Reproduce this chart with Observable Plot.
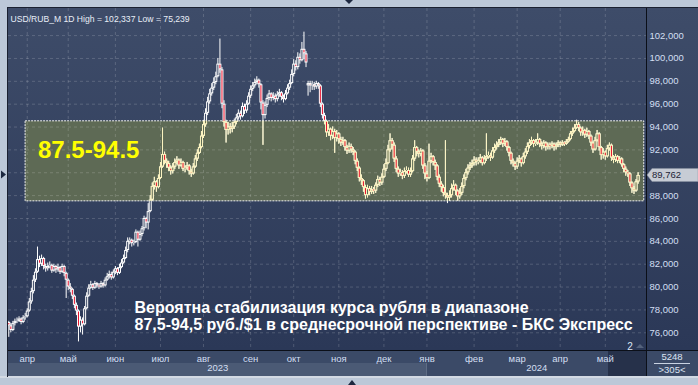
<!DOCTYPE html>
<html><head><meta charset="utf-8">
<script src="https://cdn.jsdelivr.net/npm/d3@7"></script>
<script src="https://cdn.jsdelivr.net/npm/@observablehq/plot@0.6"></script>
<style>
html,body{margin:0;padding:0;background:#bcc8d8;overflow:hidden;}
#chart svg{display:block;}
</style></head><body><div id="chart"></div>
<script>
// ---- data (daily bars, USD/RUB_M, from 2023-03-21, weekdays) ----
const startDate = "2023-03-21";
const opens = [
76.9,76.6,76.2,76.8,
77.0,77.0,77.2,76.9,77.3, 77.4,77.9,78.7,79.6,80.6, 81.3,82.4,82.0,82.5,81.8, 81.6,81.8,81.9,81.4,81.8,
81.5,81.7,81.3,81.8,81.2, 80.6,80.0,79.8,79.2,78.4, 77.9,76.5,77.1,76.7,78.1, 79.2,79.9,80.2,79.9,80.3,
80.1,80.0,80.3,80.1,80.6, 80.9,81.1,80.8,81.3,81.6, 81.2,81.7,82.1,82.5,83.2, 84.0,84.1,83.8,83.9,84.8,
84.1,84.6,85.1,86.0,85.6, 86.6,87.6,88.8,89.2,88.7, 89.5,90.5,91.6,91.0,90.8, 90.4,90.1,90.5,90.9,91.1,
90.6,90.9,90.3,90.4,90.6, 90.1,89.9,90.5,91.2,91.7, 92.2,93.2,94.2,95.2,96.2, 96.9,97.4,97.9,98.4,99.5,
99.0,96.0,94.4,93.7,94.0, 93.8,94.0,94.4,94.8,95.2, 94.9,95.8,95.4,96.0,96.7, 97.3,97.6,97.9,98.1,97.7,
96.1,95.0,95.9,96.5,96.9, 96.5,96.7,96.4,96.8,97.0, 96.6,96.4,96.9,97.4,97.8, 98.6,99.5,99.2,100.1,99.8,
100.8,100.4,97.6,97.8,97.6, 97.7,97.5,97.8,97.6,96.0, 95.0,94.5,93.5,93.8,93.2, 93.6,93.0,93.4,92.9,92.6,
92.8,92.2,91.9,92.3,92.0, 91.8,91.0,90.4,89.5,89.3, 88.7,88.0,88.6,88.3,88.5, 88.4,88.9,89.4,89.1,89.6,
90.3,90.8,92.0,92.8,92.4, 91.2,90.3,89.9,90.0,89.7, 90.1,90.2,89.8,90.1,91.2, 92.2,91.8,91.6,91.9,90.6,
89.9,89.5,91.0,91.4,90.9, 90.6,89.6,89.0,88.7,88.2, 88.0,87.8,88.0,88.6,88.9, 88.4,87.9,88.2,88.8,89.5,
90.0,90.4,90.6,90.8,91.1, 90.9,91.0,91.3,90.8,91.2, 91.4,91.5,91.3,91.9,92.2, 92.4,92.6,92.9,92.5,92.7,
92.2,91.7,91.0,90.8,90.5, 91.0,91.2,90.8,91.4,91.8, 92.3,92.6,92.8,92.5,92.6, 92.9,92.5,92.3,92.6,92.2,
92.4,92.3,92.5,92.2,92.4, 92.6,92.4,92.6,92.5,92.7, 92.9,93.4,93.6,93.9,94.2, 93.9,93.5,93.7,93.3,93.6,
93.2,92.6,92.0,92.8,93.4, 92.2,91.5,91.8,91.4,92.1, 92.4,91.3,91.1,91.4,91.0, 91.2,90.7,90.3,90.0,89.9,
89.1,88.6,88.4,89.2
];
const highs = [
77.0,76.8,77.0,77.2,
77.3,77.4,77.3,77.5,77.7, 78.1,79.0,79.9,81.0,81.6, 83.5,82.7,82.8,82.6,82.0, 82.1,82.2,82.0,82.0,81.9,
82.0,81.8,82.0,81.9,81.3, 80.7,80.3,79.9,79.3,78.6, 78.0,77.4,77.3,78.3,79.5, 80.2,80.5,80.3,80.5,80.4,
80.3,80.5,80.4,80.8,81.2, 81.4,81.3,81.5,81.8,81.7, 82.0,82.4,82.8,83.5,84.3, 84.3,84.2,84.1,85.0,84.9,
84.9,85.3,86.2,86.1,87.3, 88.0,89.1,89.6,89.3,89.8, 90.9,93.9,91.8,91.2,91.0, 90.6,90.8,91.2,91.4,91.2,
91.2,91.0,90.6,90.9,90.7, 90.3,90.8,91.5,92.0,92.5, 93.6,94.6,95.6,96.6,97.3, 97.8,98.3,98.8,100.0,101.7,
99.2,96.3,94.6,94.4,94.3, 94.4,94.7,95.1,95.5,95.4, 96.1,96.0,96.3,97.0,97.6, 97.9,98.2,98.4,98.2,97.8,
96.3,96.2,96.8,97.2,97.0, 97.0,96.9,97.1,97.3,97.1, 96.8,97.2,97.7,98.1,99.0, 99.9,99.8,100.5,100.4,101.4,
102.3,100.6,98.0,98.0,98.0, 97.9,98.0,97.9,97.7,96.1, 95.2,94.6,94.2,93.9,94.0, 93.8,93.7,93.5,93.1,93.1,
92.9,92.4,92.6,92.5,92.2, 91.9,91.2,90.5,89.8,89.4, 88.9,88.9,88.8,88.8,88.7, 89.1,89.7,89.6,89.9,90.7,
91.2,92.4,93.4,93.0,92.6, 91.4,90.5,90.3,90.2,90.4, 90.5,90.4,90.4,91.5,92.8, 92.3,92.0,92.1,92.0,90.8,
90.1,92.5,91.7,91.5,91.1, 90.7,89.8,89.2,88.9,92.8, 88.2,88.4,89.0,89.3,89.0, 88.5,88.6,89.1,89.8,90.3,
90.7,90.9,91.1,91.4,91.3, 91.3,91.6,91.4,91.5,93.4, 91.8,91.7,92.2,92.5,92.7, 92.9,93.1,93.0,93.0,92.8,
92.3,91.8,91.2,90.9,91.3, 91.5,91.3,91.7,92.1,92.6, 92.9,93.1,92.9,92.9,93.4, 93.0,92.7,92.8,92.7,92.6,
92.6,92.7,92.6,92.6,92.8, 92.7,92.8,92.7,92.9,93.1, 93.6,93.9,94.2,94.6,94.4, 94.0,94.0,93.8,93.9,93.7,
93.3,92.7,93.1,93.7,93.5, 92.3,92.1,91.9,92.4,92.6, 92.5,91.5,91.6,91.5,91.4, 91.3,90.8,90.5,90.2,90.0,
89.2,88.8,89.4,90.0
];
const lows = [
75.6,76.0,76.1,76.6,
76.8,76.9,76.7,76.8,77.1, 77.3,77.8,78.5,79.4,80.4, 81.2,81.7,81.8,81.5,81.3, 81.4,81.6,81.2,81.3,81.2,
81.3,81.1,81.2,80.9,79.0, 79.7,79.5,78.9,78.1,77.5, 75.2,76.0,75.8,76.6,78.0, 79.1,79.8,79.7,79.8,79.9,
79.8,79.9,79.9,80.0,80.5, 80.7,80.6,80.7,81.1,81.0, 81.1,81.6,82.0,82.4,83.0, 83.7,83.5,83.6,83.8,83.5,
84.0,84.4,84.9,85.1,85.0, 86.5,87.5,88.5,88.3,88.6, 89.4,90.4,90.7,90.4,90.1, 89.8,89.9,90.3,90.7,90.3,
90.5,90.1,90.0,90.2,89.8, 89.6,89.8,90.4,91.0,91.6, 92.1,93.0,94.0,95.0,96.0, 96.7,97.2,97.7,98.3,98.7,
95.6,94.0,92.6,93.3,93.4, 93.5,93.8,94.2,94.6,94.6, 94.8,95.1,95.2,95.9,96.5, 97.1,97.4,97.7,97.4,95.5,
92.4,94.7,95.7,96.3,96.2, 96.3,96.1,96.2,96.6,96.3, 96.1,96.3,96.8,97.2,97.7, 98.4,98.9,99.0,99.5,99.7,
99.9,99.2,96.7,97.0,97.2, 97.2,97.3,97.3,95.7,94.7, 94.2,93.1,93.2,92.8,92.9, 91.7,92.7,92.5,92.3,92.4,
91.9,91.6,91.7,91.7,91.5, 90.7,90.1,89.2,88.9,88.3, 87.7,87.8,88.0,88.1,88.1, 88.2,88.7,88.8,88.9,89.5,
90.1,90.7,91.8,92.0,90.9, 90.0,89.6,89.7,89.4,89.5, 89.9,89.6,89.6,90.0,91.0, 91.4,91.3,91.4,90.3,89.4,
89.2,89.4,90.8,90.6,90.2, 89.3,88.7,88.3,87.9,87.7, 87.3,87.5,87.8,88.4,88.0, 87.5,87.7,88.0,88.6,89.3,
89.8,90.2,90.4,90.6,90.6, 90.7,90.8,90.6,90.7,91.0, 91.2,91.0,91.2,91.7,92.0, 92.2,92.4,92.2,92.3,91.9,
91.4,90.7,90.5,90.2,90.3, 90.8,90.5,90.7,91.2,91.6, 92.1,92.4,92.2,92.3,92.4, 92.2,92.0,92.1,91.9,92.0,
92.0,92.1,91.9,92.0,92.2, 92.2,92.3,92.3,92.4,92.6, 92.8,93.2,93.5,93.8,93.6, 93.2,93.2,93.0,93.1,92.9,
92.3,91.7,91.9,92.7,91.9, 91.1,91.2,91.1,91.3,91.9, 91.0,90.8,90.9,90.8,90.8, 90.5,90.0,89.7,89.6,88.8,
88.2,88.1,88.3,89.0
];
const closes = [
76.6,76.2,76.8,77.0,
77.0,77.2,76.9,77.3,77.4, 77.9,78.7,79.6,80.6,81.3, 82.4,82.0,82.5,81.8,81.6, 81.8,81.9,81.4,81.8,81.5,
81.7,81.3,81.8,81.2,80.6, 80.0,79.8,79.2,78.4,77.9, 76.5,77.1,76.7,78.1,79.2, 79.9,80.2,79.9,80.3,80.1,
80.0,80.3,80.1,80.6,80.9, 81.1,80.8,81.3,81.6,81.2, 81.7,82.1,82.5,83.2,84.0, 84.1,83.8,83.9,84.8,84.1,
84.6,85.1,86.0,85.6,86.6, 87.6,88.8,89.2,88.7,89.5, 90.5,91.6,91.0,90.8,90.4, 90.1,90.5,90.9,91.1,90.6,
90.9,90.3,90.4,90.6,90.1, 89.9,90.5,91.2,91.7,92.2, 93.2,94.2,95.2,96.2,96.9, 97.4,97.9,98.4,99.5,99.0,
96.0,94.4,93.7,94.0,93.8, 94.0,94.4,94.8,95.2,94.9, 95.8,95.4,96.0,96.7,97.3, 97.6,97.9,98.1,97.7,96.1,
95.0,95.9,96.5,96.9,96.5, 96.7,96.4,96.8,97.0,96.6, 96.4,96.9,97.4,97.8,98.6, 99.5,99.2,100.1,99.8,100.8,
100.4,99.6,97.8,97.6,97.7, 97.5,97.8,97.6,96.0,95.0, 94.5,93.5,93.8,93.2,93.6, 93.0,93.4,92.9,92.6,92.8,
92.2,91.9,92.3,92.0,91.8, 91.0,90.4,89.5,89.3,88.7, 88.0,88.6,88.3,88.5,88.4, 88.9,89.4,89.1,89.6,90.3,
90.8,92.0,92.8,92.4,91.2, 90.3,89.9,90.0,89.7,90.1, 90.2,89.8,90.1,91.2,92.2, 91.8,91.6,91.9,90.6,89.9,
89.5,91.0,91.4,90.9,90.6, 89.6,89.0,88.7,88.2,88.0, 87.8,88.0,88.6,88.9,88.4, 87.9,88.2,88.8,89.5,90.0,
90.4,90.6,90.8,91.1,90.9, 91.0,91.3,90.8,91.2,91.4, 91.5,91.3,91.9,92.2,92.4, 92.6,92.9,92.5,92.7,92.2,
91.7,91.0,90.8,90.5,91.0, 91.2,90.8,91.4,91.8,92.3, 92.6,92.8,92.5,92.6,92.9, 92.5,92.3,92.6,92.2,92.4,
92.3,92.5,92.2,92.4,92.6, 92.4,92.6,92.5,92.7,92.9, 93.4,93.6,93.9,94.2,93.9, 93.5,93.7,93.3,93.6,93.2,
92.6,92.0,92.8,93.4,92.2, 91.5,91.8,91.4,92.1,92.4, 91.3,91.1,91.4,91.0,91.2, 90.7,90.3,90.0,89.9,89.1,
88.6,88.4,89.2,89.762
];
const monthNames = ["янв","фев","мар","апр","май","июн","июл","авг","сен","окт","ноя","дек"];
const yTicks = [76,78,80,82,84,86,88,90,92,94,96,98,100,102];
const zoneLow = 87.5, zoneHigh = 94.5;
const zoneStartBar = 8.2, zoneEndBar = 310;
const zoneLabel = "87.5-94.5";
const headerText = "USD/RUB_M 1D High = 102,337 Low = 75,239";
const captionLine1 = "Вероятна стабилизация курса рубля в диапазоне";
const captionLine2 = "87,5-94,5 руб./$1 в среднесрочной перспективе - БКС Экспресс";
const lastPrice = 89.762;
const cornerTop = "5248", cornerBottom = ">305<";
const paneNumber = "2";

(function () {
// ---- build rows ----
const dates = [];
for (let d = new Date(startDate + "T00:00:00Z"); dates.length < closes.length; d = d3.utcDay.offset(d, 1)) {
  const w = d.getUTCDay();
  if (w !== 0 && w !== 6) dates.push(d);
}
const bars = closes.map((c, i) => ({i, date: dates[i], o: opens[i], h: highs[i], l: lows[i], c}));
const monthStarts = bars.filter((d, i) => i > 0 && d.date.getUTCMonth() !== dates[i - 1].getUTCMonth()).map(d => d.i);
const yearStarts = bars.filter((d, i) => i > 0 && d.date.getUTCFullYear() !== dates[i - 1].getUTCFullYear()).map(d => d.i);
const W = 698, H = 385, mL = 8, mR = 52, mT = 8, mB = 35;
const xDomain = [-0.14, 311.1];
const years = [];
{
  const bounds = [xDomain[0], ...yearStarts, xDomain[1]];
  for (let k = 0; k < bounds.length - 1; k++) {
    const idx = Math.max(0, Math.ceil(bounds[k]));
    years.push({from: bounds[k], to: bounds[k + 1], mid: (bounds[k] + bounds[k + 1]) / 2, label: String(dates[idx].getUTCFullYear())});
  }
}
// the last-price tag covers the tick label next to it
const yLabelTicks = yTicks.filter(v => Math.abs(v - lastPrice) > 1);
const down = bars.filter(d => d.c < d.o);
const up = bars.filter(d => d.c > d.o);

function candles(color, hollow, desc) {
  return [
    Plot.ruleX(bars, {x: "i", y1: "l", y2: "h", stroke: color, strokeWidth: 1, ariaDescription: desc}),
    Plot.ruleX(bars, {x: "i", y1: "o", y2: "c", stroke: color, strokeWidth: 3, ariaDescription: desc}),
    Plot.ruleX(up, {x: "i", y1: "c", y2: "o", stroke: hollow, strokeWidth: 1, insetTop: 1, insetBottom: 1, ariaDescription: desc}),
    Plot.ruleX(down, {x: "i", y1: "o", y2: "c", stroke: "#e8102c", strokeWidth: 1, insetTop: 1, insetBottom: 1, ariaDescription: desc})
  ];
}

const chart = Plot.plot({
  width: W, height: H,
  marginLeft: mL, marginRight: mR, marginTop: mT, marginBottom: mB,
  style: {background: "transparent", fontFamily: "'Liberation Sans', Arial, sans-serif", fontSize: "9.5px", color: "#d3dff2"},
  x: {domain: xDomain, axis: "bottom", ticks: monthStarts, tickFormat: i => monthNames[dates[i].getUTCMonth()], tickSize: 0, tickPadding: 5, label: null},
  y: {domain: [74.45, 104.37], axis: "right", ticks: yLabelTicks, tickFormat: d => d.toFixed(3).replace(".", ","), tickSize: 0, tickPadding: 3, label: null},
  marks: [
    Plot.rect([{x1: zoneStartBar, x2: zoneEndBar, y1: zoneLow, y2: zoneHigh}], {x1: "x1", x2: "x2", y1: "y1", y2: "y2", fill: "#5e6a55"}),
    Plot.ruleY(yTicks, {stroke: "#ffffff", strokeOpacity: 0.17, strokeDasharray: "3,3"}),
    Plot.ruleX(monthStarts, {x: d => d, stroke: "#ffffff", strokeOpacity: 0.17, strokeDasharray: "3,3"}),
    Plot.rect([{x1: zoneStartBar, x2: zoneEndBar, y1: zoneLow, y2: zoneHigh}], {x1: "x1", x2: "x2", y1: "y1", y2: "y2", fill: "none", stroke: "#f0f0f0", strokeDasharray: "2,1"}),
    ...candles("#ffffff", "#35435f", "plain-candles"),
    ...candles("#fbf3bf", "#5e6a55", "zone-candles"),
    Plot.text([zoneLabel], {frameAnchor: "top-left", dx: 29.5, dy: 132, textAnchor: "start", fontSize: 24, fontWeight: "bold", fill: "#ffff00"}),
    Plot.text([captionLine1], {frameAnchor: "top-left", dx: 126, dy: 293, textAnchor: "start", fontSize: 16, fontWeight: "bold", fill: "#ffffff"}),
    Plot.text([captionLine2], {frameAnchor: "top-left", dx: 126, dy: 310, textAnchor: "start", fontSize: 16, fontWeight: "bold", fill: "#ffffff"}),
    Plot.text([headerText], {frameAnchor: "top-left", dx: 2, dy: 7, textAnchor: "start", fontSize: 8.6, fill: "#e8eef7"}),
    Plot.text(years, {x: "mid", text: "label", frameAnchor: "bottom", dy: 20, fill: "#d3dff2"})
  ]
});

// ---- chrome, clip and overlays ----
const svg = d3.select(chart);
const xs = chart.scale("x"), ys = chart.scale("y");
const pLeft = mL, pRight = W - mR, pTop = mT, pBottom = H - mB;
const chrome = svg.insert("g", ":first-child");
const defs = chrome.append("defs");
const g1 = defs.append("linearGradient").attr("id", "panelGrad").attr("x1", 0).attr("y1", 0).attr("x2", 0).attr("y2", 1);
g1.append("stop").attr("offset", "0%").attr("stop-color", "#3e4c69");
g1.append("stop").attr("offset", "100%").attr("stop-color", "#2b3857");
chrome.append("rect").attr("x", pLeft).attr("y", pTop).attr("width", W - pLeft).attr("height", pBottom - pTop).attr("fill", "url(#panelGrad)");
chrome.append("rect").attr("x", pLeft).attr("y", pBottom).attr("width", W - pLeft).attr("height", 13).attr("fill", "#3b4a67");
years.forEach((yr, k) => {
  const x1 = xs.apply(yr.from), x2 = xs.apply(yr.to);
  chrome.append("rect").attr("x", x1).attr("y", pBottom + 13).attr("width", x2 - x1).attr("height", 13).attr("fill", k % 2 === 0 ? "#4b5a75" : "#3b4a67");
});
chrome.append("rect").attr("x", pRight - 38).attr("y", pBottom + 1).attr("width", 38).attr("height", 25).attr("fill", "#26314a");
chrome.append("rect").attr("x", pRight).attr("y", pBottom).attr("width", W - pRight).attr("height", 26).attr("fill", "#3b4a67");
chrome.append("rect").attr("x", 0).attr("y", pBottom + 26).attr("width", W).attr("height", 2).attr("fill", "#d3dae4");
defs.append("clipPath").attr("id", "zoneClip").append("rect")
  .attr("x", xs.apply(zoneStartBar)).attr("y", ys.apply(zoneHigh))
  .attr("width", xs.apply(zoneEndBar) - xs.apply(zoneStartBar)).attr("height", ys.apply(zoneLow) - ys.apply(zoneHigh));
svg.selectAll('[aria-description="zone-candles"]').attr("clip-path", "url(#zoneClip)");

const over = svg.append("g").attr("text-anchor", "start");
over.append("line").attr("x1", pLeft).attr("x2", W).attr("y1", pBottom + 0.5).attr("y2", pBottom + 0.5).attr("stroke", "#0b0f18");
over.append("line").attr("x1", pRight + 0.5).attr("x2", pRight + 0.5).attr("y1", pTop).attr("y2", pBottom + 26).attr("stroke", "#0b0f18");
over.append("line").attr("x1", pLeft - 0.5).attr("x2", pLeft - 0.5).attr("y1", pTop - 1).attr("y2", pBottom + 27).attr("stroke", "#1a2030");
over.append("line").attr("x1", pLeft - 1).attr("x2", W).attr("y1", pTop - 0.5).attr("y2", pTop - 0.5).attr("stroke", "#1a2030");
over.append("line").attr("x1", pRight + 8).attr("x2", W - 8).attr("y1", pBottom + 13.5).attr("y2", pBottom + 13.5).attr("stroke", "#c9d3e2");
over.append("text").attr("x", (pRight + W) / 2).attr("y", pBottom + 7).attr("dy", "0.35em").attr("text-anchor", "middle").attr("fill", "#dbe4f2").attr("font-size", "9.5px").text(cornerTop);
over.append("text").attr("x", (pRight + W) / 2).attr("y", pBottom + 20).attr("dy", "0.35em").attr("text-anchor", "middle").attr("fill", "#dbe4f2").attr("font-size", "9.5px").text(cornerBottom);
over.append("text").attr("x", pRight - 16).attr("y", pBottom - 4).attr("dy", "0.35em").attr("text-anchor", "middle").attr("fill", "#dbe4f2").attr("font-size", "10px").text(paneNumber);
over.append("path").attr("d", `M${pRight - 10},${pBottom - 2}L${pRight - 6},${pBottom - 6}L${pRight - 2},${pBottom - 2}Z`).attr("fill", "#54627c");
const py = ys.apply(lastPrice);
over.append("path").attr("d", `M${pRight + 1},${py}L${pRight + 6},${py - 6.5}L${W},${py - 6.5}L${W},${py + 6.5}L${pRight + 6},${py + 6.5}Z`).attr("fill", "#c7ccd5").attr("stroke", "#8a93a3").attr("stroke-width", 0.5);
over.append("text").attr("x", pRight + 6).attr("y", py).attr("dy", "0.35em").attr("text-anchor", "start").attr("fill", "#1c2436").attr("font-size", "9.5px").text(lastPrice.toFixed(3).replace(".", ","));
const ay = ys.apply(89.8);
over.append("path").attr("d", `M1,${ay - 4}L6,${ay}L1,${ay + 4}Z`).attr("fill", "#1d2840");
over.append("path").attr("d", `M345,0L353,0L349,4Z`).attr("fill", "#1d2840");
over.append("path").attr("d", `M348,385L356,385L352,380Z`).attr("fill", "#1d2840");

document.getElementById("chart").appendChild(chart);
})();
</script>
</body></html>
